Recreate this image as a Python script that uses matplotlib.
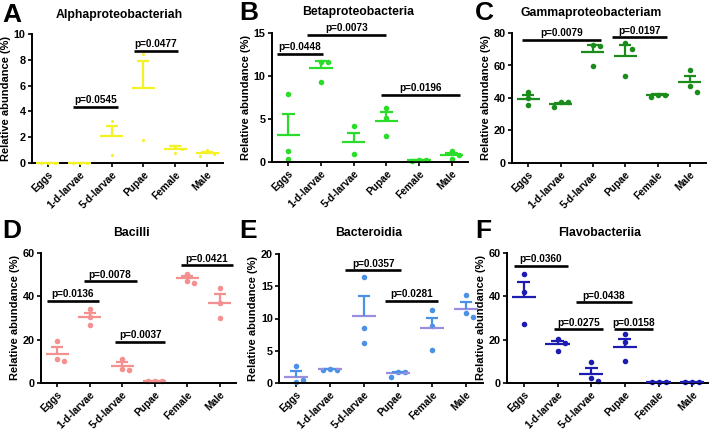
#!/usr/bin/env python
#
# Relative abundance of bacterial classes across life stages, 2x3 panels.

import numpy as np
import matplotlib
matplotlib.use('Agg')
import matplotlib.pyplot as plt


########
# Data #
########

groups = ['Eggs', '1-d-larvae', '5-d-larvae', 'Pupae', 'Female', 'Male']

alpha_pts = [[0, 0, 0], [0, 0, 0], [3.27, 0.65], [8.44, 1.82],
             [1.35, 1.05, 0.8], [1.0, 0.7, 0.55]]
alpha_mean = [0, 0, 2.08, 5.79, 1.06, 0.75]
alpha_err = [0, 0, 0.75, 2.08, 0.22, 0.12]
alpha_pvals = [(0.8, 2.2, 4.36, 'p=0.0545'), (2.7, 4.1, 8.7, 'p=0.0477')]

beta_pts = [[7.87, 1.23, 0.35], [11.65, 11.6, 9.33], [4.13, 0.96],
            [6.33, 5.09, 3.05], [0.25, 0.2, 0.15], [1.23, 0.85, 0.35]]
beta_mean = [3.16, 10.9, 2.35, 4.82, 0.2, 0.8]
beta_err = [2.43, 0.8, 1.0, 0.96, 0.07, 0.25]
beta_pvals = [(-0.35, 1.05, 12.6, 'p=0.0448'), (0.58, 3.0, 14.8, 'p=0.0073'),
              (2.83, 5.27, 7.8, 'p=0.0196')]

gamma_pts = [[43.5, 39.8, 35.5], [37.3, 37.3, 34.5], [72.8, 71.8, 59.5],
             [73.8, 70.2, 53.5], [42.0, 42.0, 40.4], [57.2, 47.2, 43.9]]
gamma_mean = [39.6, 36.3, 68.1, 65.8, 41.6, 49.6]
gamma_err = [2.5, 0.8, 4.3, 6.6, 0.6, 3.7]
gamma_pvals = [(-0.19, 2.25, 75.9, 'p=0.0079'), (2.59, 4.29, 77.3, 'p=0.0197')]

bacilli_pts = [[19.3, 11.3, 10.05], [34.2, 30.5, 26.8], [11.0, 6.6, 6.0],
               [0.9, 0.9, 0.9], [50.3, 47.3, 46.1], [43.8, 36.8, 30.2]]
bacilli_mean = [13.6, 30.5, 7.9, 0.9, 48.4, 36.8]
bacilli_err = [2.8, 2.0, 1.8, 0.1, 1.1, 4.2]
bacilli_pvals = [(-0.32, 1.27, 38.0, 'p=0.0136'), (0.81, 2.44, 46.9, 'p=0.0078'),
                 (1.78, 3.33, 18.9, 'p=0.0037'), (3.8, 5.4, 54.3, 'p=0.0421')]

bactero_pts = [[2.64, 0.15, 0.41], [2.2, 2.05, 2.05], [16.4, 8.5, 6.2],
               [1.76, 1.76, 0.88], [11.35, 8.8, 5.18], [13.7, 10.8, 10.2]]
bactero_mean = [0.98, 2.1, 10.4, 1.5, 8.45, 11.55]
bactero_err = [0.89, 0.05, 3.1, 0.25, 1.7, 1.05]
bactero_pvals = [(1.45, 3.1, 17.5, 'p=0.0357'), (2.62, 4.17, 12.75, 'p=0.0281')]

flavo_pts = [[50.3, 42.2, 27.1], [20.1, 18.6, 15.0], [9.6, 2.3, 0.9],
             [22.4, 18.9, 10.05], [0.5, 0.5, 0.5], [0.3, 0.3, 0.3]]
flavo_mean = [39.9, 17.8, 4.3, 16.4, 0.5, 0.3]
flavo_err = [6.5, 1.5, 2.7, 3.9, 0, 0]
flavo_pvals = [(-0.3, 1.31, 54.1, 'p=0.0360'), (1.54, 3.2, 37.3, 'p=0.0438'),
               (0.89, 2.34, 24.7, 'p=0.0275'), (2.69, 3.85, 24.7, 'p=0.0158')]


##########
# Layout #
##########

W, H = 709, 430

panels = [
    # letter, title, data, ymax, ystep, color, mean color, marker size,
    # axes box in px (left, right, top, bottom), title centre, letter pos
    ('A', 'Alphaproteobacteriah',
     (alpha_pts, alpha_mean, alpha_err, alpha_pvals), 10, 2,
     '#f2f224', '#f2f224', 2.2, (32, 223, 34, 163), (119, 15), (2, 15)),
    ('B', 'Betaproteobacteria',
     (beta_pts, beta_mean, beta_err, beta_pvals), 15, 5,
     '#2bdc2b', '#2bdc2b', 4.0, (272, 468, 33, 162), (358, 12), (239, 13)),
    ('C', 'Gammaproteobacteriam',
     (gamma_pts, gamma_mean, gamma_err, gamma_pvals), 80, 20,
     '#1b8c1b', '#1b8c1b', 4.0, (512, 706, 33, 163), (591, 13), (475, 13)),
    ('D', 'Bacilli',
     (bacilli_pts, bacilli_mean, bacilli_err, bacilli_pvals), 60, 20,
     '#f49090', '#f49090', 4.0, (41, 236, 253, 383), (131, 233), (2, 231)),
    ('E', 'Bacteroidia',
     (bactero_pts, bactero_mean, bactero_err, bactero_pvals), 20, 5,
     '#4b92e6', '#9a8ee0', 4.0, (279, 483, 254, 383), (369, 233), (239, 231)),
    ('F', 'Flavobacteriia',
     (flavo_pts, flavo_mean, flavo_err, flavo_pvals), 60, 20,
     '#1c1cb0', '#1c1cb0', 4.0, (507, 709, 253, 383), (600, 233), (475, 231)),
]


###########
# Helpers #
###########

def swarm_offsets(vals, px_per_unit, diam):
    # place points one by one, shifting sideways when they would overlap
    placed = []
    offs = []
    for v in vals:
        y = v * px_per_unit
        for k in [0, 1, -1, 2, -2]:
            x = k * diam
            if all((x - xo)**2 + (y - yo)**2 >= (0.85 * diam)**2
                   for xo, yo in placed):
                break
        placed.append((x, y))
        offs.append(x)
    return np.array(offs)


def draw_panel(fig, spec):
    (letter, title, data, ymax, ystep, color, mcolor, ms,
     box, tpos, lpos) = spec
    pts, means, errs, pvals = data
    l, r, t, b = box
    ax = fig.add_axes([l / W, 1 - b / H, (r - l) / W, (b - t) / H])

    n = len(groups)
    ax.set_xlim(-0.5, n - 0.5)
    ax.set_ylim(0, ymax)
    px_per_unit = (b - t) / ymax
    px_per_cat = (r - l) / n

    for i in range(n):
        offs = swarm_offsets(pts[i], px_per_unit, 7.0) / px_per_cat
        ax.plot(i + offs, pts[i], 'o', color=color, ms=ms, mec='none',
                clip_on=False, zorder=2)
        m, e = means[i], errs[i]
        ax.plot([i - 0.36, i + 0.36], [m, m], color=mcolor, lw=1.6,
                clip_on=False, zorder=3, solid_capstyle='butt')
        if e > 0:
            ax.plot([i, i], [m, m + e], color=color, lw=1.6, zorder=3,
                    solid_capstyle='butt')
            ax.plot([i - 0.19, i + 0.19], [m + e, m + e], color=color,
                    lw=1.6, zorder=3, solid_capstyle='butt')

    for x0, x1, y, label in pvals:
        ax.plot([x0, x1], [y, y], color='black', lw=1.9, clip_on=False,
                solid_capstyle='butt')
        ax.text((x0 + x1) / 2, y + ymax * 0.012, label, ha='center',
                va='bottom', fontsize=7.2, fontweight='bold')

    ax.set_xticks(range(n))
    ax.set_xticklabels(groups, rotation=45, ha='right',
                       rotation_mode='anchor', fontsize=7.3,
                       fontweight='bold')
    ax.set_yticks(np.arange(0, ymax + ystep / 2, ystep))
    for lab in ax.get_yticklabels():
        lab.set_fontsize(7.8)
        lab.set_fontweight('bold')
    ax.tick_params(length=3, width=1.2, pad=1.5)
    for side in ['top', 'right']:
        ax.spines[side].set_visible(False)
    for side in ['left', 'bottom']:
        ax.spines[side].set_linewidth(1.4)
    ax.set_ylabel('Relative abundance (%)', fontsize=8, fontweight='bold',
                  labelpad=2)

    fig.text(tpos[0] / W, 1 - tpos[1] / H, title, ha='center',
             va='center', fontsize=8.8, fontweight='bold')
    fig.text(lpos[0] / W, 1 - lpos[1] / H, letter, ha='left', va='center',
             fontsize=19, fontweight='bold')
    return ax


if __name__ == '__main__':
    plt.rcParams['font.family'] = ['Liberation Sans', 'DejaVu Sans']

    fig = plt.figure(figsize=(W / 100, H / 100), dpi=100)
    for spec in panels:
        draw_panel(fig, spec)
    fig.savefig('out.png', dpi=100)
